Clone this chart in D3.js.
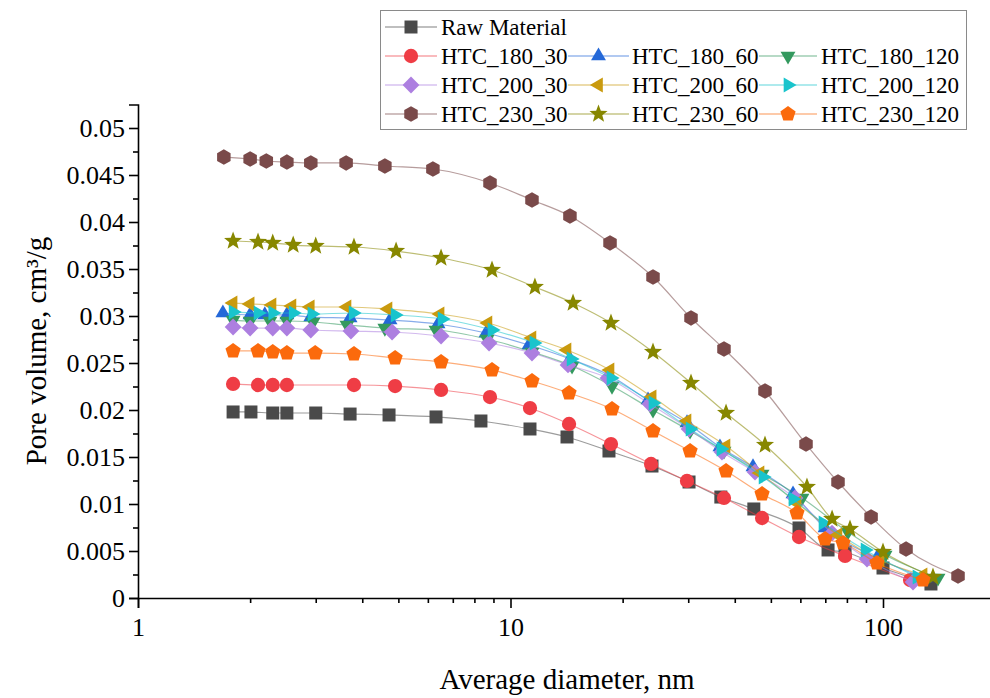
<!DOCTYPE html>
<html>
<head>
<meta charset="utf-8">
<script src="https://cdn.jsdelivr.net/npm/d3@7"></script>
<style>
  body { margin: 0; background: #fff; }
  svg { display: block; }
  svg text { font-family: "Liberation Serif", "Times New Roman", Tinos, "DejaVu Serif", "Noto Serif", serif; fill: #000; }
  .axis path, .axis line { stroke: #000; stroke-width: 1.6; }
  .axis text { font-size: 26px; }
</style>
</head>
<body>
<svg id="chart" width="990" height="698"></svg>
<script>
// diameters (nm) and pore volumes (cm3/g)
var rawD = [1.80, 2.01, 2.30, 2.51, 3.00, 3.71, 4.72, 6.31, 8.33, 11.28, 14.18, 18.38, 23.98, 30.15, 36.7, 45.0, 59.5, 71.2, 79.1, 100, 134.5];
var rawV = [0.01979, 0.01979, 0.01968, 0.01968, 0.01968, 0.01957, 0.01947, 0.01926, 0.01883, 0.01798, 0.01713, 0.01564, 0.01404, 0.01234, 0.01074, 0.00947, 0.00745, 0.00511, 0.00489, 0.00319, 0.00149];

var h180_30D = [1.80, 2.10, 2.30, 2.51, 3.80, 4.90, 6.51, 8.81, 11.28, 14.36, 18.61, 23.84, 29.77, 37.42, 47.35, 59.5, 79.1, 118.2];
var h180_30V = [0.02277, 0.02266, 0.02266, 0.02266, 0.02266, 0.02255, 0.02213, 0.02138, 0.02021, 0.01851, 0.01638, 0.01426, 0.01245, 0.01064, 0.00851, 0.00649, 0.00447, 0.00191];

var h180_60D = [1.69, 2.0, 2.19, 2.51, 2.91, 3.71, 4.75, 6.39, 8.60, 11.21, 14.44, 18.38, 23.40, 29.77, 36.5, 44.77, 57.34, 69.9, 96.3, 129.7];
var h180_60V = [0.03032, 0.03011, 0.03011, 0.03011, 0.02989, 0.02979, 0.02957, 0.02915, 0.02819, 0.02691, 0.02543, 0.02372, 0.02106, 0.01862, 0.01606, 0.01394, 0.01106, 0.00745, 0.00426, 0.00213];

var h180_120D = [1.80, 2.0, 2.26, 2.51, 2.95, 3.64, 4.60, 6.31, 8.65, 11.42, 14.63, 18.73, 24.13, 30.34, 37.42, 47.35, 60.6, 80.5, 101.3, 140.5];
var h180_120V = [0.02957, 0.02947, 0.02947, 0.02947, 0.02936, 0.02904, 0.02872, 0.02851, 0.02755, 0.02617, 0.02468, 0.02255, 0.02000, 0.01777, 0.01564, 0.01319, 0.01064, 0.00702, 0.00457, 0.00213];

var h200_30D = [1.80, 2.0, 2.30, 2.51, 2.91, 3.73, 4.81, 6.51, 8.76, 11.42, 14.27, 18.27, 23.69, 30.15, 36.96, 45.33, 58.05, 72.97, 90.6, 120.4];
var h200_30V = [0.02883, 0.02872, 0.02872, 0.02872, 0.02851, 0.02840, 0.02830, 0.02787, 0.02713, 0.02606, 0.02479, 0.02340, 0.02064, 0.01798, 0.01553, 0.01340, 0.01064, 0.00691, 0.00415, 0.00170];

var h200_60D = [1.80, 2.0, 2.29, 2.59, 2.90, 3.64, 4.69, 6.47, 8.70, 11.42, 14.18, 18.5, 24.0, 29.77, 37.9, 46.76, 58.76, 75.7, 98.2, 128.1];
var h200_60V = [0.03138, 0.03128, 0.03117, 0.03106, 0.03096, 0.03096, 0.03074, 0.03021, 0.02926, 0.02766, 0.02638, 0.02426, 0.02140, 0.01883, 0.01617, 0.01330, 0.01011, 0.00670, 0.00404, 0.00245];

var h200_120D = [1.80, 2.10, 2.30, 2.61, 2.93, 3.78, 4.90, 6.55, 8.92, 11.56, 14.54, 18.61, 24.13, 30.34, 36.74, 47.64, 57.3, 69.0, 89.5, 123.4];
var h200_120V = [0.03043, 0.03032, 0.03032, 0.03032, 0.03021, 0.03032, 0.03011, 0.02968, 0.02851, 0.02713, 0.02543, 0.02340, 0.02074, 0.01798, 0.01585, 0.01287, 0.01053, 0.00798, 0.00511, 0.00223];

var h230_30D = [1.70, 2.0, 2.21, 2.51, 2.91, 3.62, 4.60, 6.19, 8.81, 11.42, 14.44, 18.5, 24.13, 30.52, 37.42, 48.22, 62.13, 75.72, 92.9, 115.3, 159.0];
var h230_30V = [0.04691, 0.04670, 0.04649, 0.04638, 0.04628, 0.04628, 0.04596, 0.04564, 0.04415, 0.04234, 0.04064, 0.03777, 0.03415, 0.02979, 0.02649, 0.02202, 0.01638, 0.01234, 0.00862, 0.00521, 0.00234];

var h230_60D = [1.80, 2.10, 2.30, 2.61, 3.00, 3.80, 4.93, 6.51, 8.92, 11.63, 14.72, 18.61, 24.13, 30.52, 37.9, 48.22, 62.5, 73.0, 81.55, 100, 136.2];
var h230_60V = [0.03798, 0.03787, 0.03777, 0.03755, 0.03745, 0.03734, 0.03691, 0.03617, 0.03489, 0.03309, 0.03138, 0.02926, 0.02617, 0.02287, 0.01968, 0.01628, 0.01181, 0.00840, 0.00734, 0.00489, 0.00223];

var h230_120D = [1.80, 2.10, 2.30, 2.51, 2.99, 3.80, 4.90, 6.51, 8.92, 11.42, 14.36, 18.73, 24.13, 30.34, 37.9, 47.35, 58.76, 69.9, 78.1, 96.3, 128.1];
var h230_120V = [0.02628, 0.02628, 0.02617, 0.02606, 0.02606, 0.02596, 0.02553, 0.02511, 0.02426, 0.02309, 0.02181, 0.02011, 0.01777, 0.01564, 0.01351, 0.01106, 0.00904, 0.00628, 0.00585, 0.00372, 0.00191];

var seriesNames = ["Raw Material", "HTC_180_30", "HTC_180_60", "HTC_180_120", "HTC_200_30", "HTC_200_60", "HTC_200_120", "HTC_230_30", "HTC_230_60", "HTC_230_120"];
var seriesColors = ["#4a4a4a", "#ef3d45", "#2468d8", "#33995e", "#ad7fe0", "#c99a0e", "#19c4cc", "#7a4a4a", "#878700", "#fb6a0c"];
var seriesShapes = ["square", "circle", "up", "down", "diamond", "left", "right", "hexagon", "star", "pentagon"];
var yTicks = [0, 0.005, 0.01, 0.015, 0.02, 0.025, 0.03, 0.035, 0.04, 0.045, 0.05];
var yTickLabels = ["0", "0.005", "0.01", "0.015", "0.02", "0.025", "0.03", "0.035", "0.04", "0.045", "0.05"];
var xTicks = [1, 10, 100];

var allD = [rawD, h180_30D, h180_60D, h180_120D, h200_30D, h200_60D, h200_120D, h230_30D, h230_60D, h230_120D];
var allV = [rawV, h180_30V, h180_60V, h180_120V, h200_30V, h200_60V, h200_120V, h230_30V, h230_60V, h230_120V];

var series = seriesNames.map(function(name, i) {
    return {
        name: name,
        color: seriesColors[i],
        shape: seriesShapes[i],
        points: allD[i].map(function(d, j) { return { d: d, v: allV[i][j] }; })
    };
});

var left = 138, bottom = 598, decade = 372.5, pxPerUnit = 9400;

var x = d3.scaleLog()
    .domain([1, 200])
    .range([left, left + decade * Math.log10(200)]);

var y = d3.scaleLinear()
    .domain([0, 0.0525])
    .range([bottom, bottom - 0.0525 * pxPerUnit]);

function polygon(n, r, rot) {
    var pts = [];
    for (var k = 0; k < n; k++) {
        var a = rot + k * 2 * Math.PI / n;
        pts.push([r * Math.cos(a), r * Math.sin(a)]);
    }
    return "M" + pts.map(function(p) { return p[0].toFixed(2) + "," + p[1].toFixed(2); }).join("L") + "Z";
}

function starPath(ro, ri) {
    var pts = [];
    for (var k = 0; k < 10; k++) {
        var r = k % 2 === 0 ? ro : ri;
        var a = -Math.PI / 2 + k * Math.PI / 5;
        pts.push([r * Math.cos(a), r * Math.sin(a)]);
    }
    return "M" + pts.map(function(p) { return p[0].toFixed(2) + "," + p[1].toFixed(2); }).join("L") + "Z";
}

function markerPath(shape) {
    switch (shape) {
        case "square": return "M-6.5,-6.5H6.5V6.5H-6.5Z";
        case "circle": return d3.symbol().type(d3.symbolCircle).size(160)();
        case "up": return polygon(3, 8.6, -Math.PI / 2);
        case "down": return polygon(3, 8.6, Math.PI / 2);
        case "left": return polygon(3, 8.6, Math.PI);
        case "right": return polygon(3, 8.6, 0);
        case "diamond": return polygon(4, 8.4, -Math.PI / 2);
        case "hexagon": return polygon(6, 7.8, -Math.PI / 2);
        case "pentagon": return polygon(5, 8, -Math.PI / 2);
        case "star": return starPath(9.5, 4);
    }
}

var svg = d3.select("#chart");
var serif = "Liberation Serif, Times New Roman, Tinos, DejaVu Serif, serif";

// axes
var yAxis = d3.axisLeft(y)
    .tickValues(yTicks)
    .tickFormat(function(d, i) { return yTickLabels[i]; })
    .tickSize(9)
    .tickPadding(4);

svg.append("g")
    .attr("class", "axis")
    .attr("transform", "translate(" + left + ",0)")
    .call(yAxis)
    .attr("font-family", serif);

svg.append("g")
    .attr("class", "axis")
    .attr("transform", "translate(" + left + ",0)")
    .call(d3.axisLeft(y).tickValues(d3.range(0.0025, 0.0525, 0.005)).tickSize(5).tickFormat(""))
    .select(".domain").remove();

var xMinor = [];
[1, 10, 100].forEach(function(b) {
    for (var k = 2; k <= 9; k++) { if (b * k <= 200) xMinor.push(b * k); }
});

svg.append("g")
    .attr("class", "axis")
    .attr("transform", "translate(0," + bottom + ")")
    .call(d3.axisBottom(x).tickValues(xTicks).tickFormat(d3.format("d")).tickSize(10).tickPadding(10))
    .attr("font-family", serif);

svg.append("g")
    .attr("class", "axis")
    .attr("transform", "translate(0," + bottom + ")")
    .call(d3.axisBottom(x).tickValues(xMinor).tickSize(5).tickFormat(""))
    .select(".domain").remove();

// axis titles
svg.append("text")
    .attr("x", 567)
    .attr("y", 689)
    .attr("text-anchor", "middle")
    .style("font-size", "29px")
    .text("Average diameter, nm");

svg.append("text")
    .attr("transform", "translate(46,351) rotate(-90)")
    .attr("text-anchor", "middle")
    .style("font-size", "29px")
    .text("Pore volume, cm³/g");

// series
var line = d3.line()
    .x(function(d) { return x(d.d); })
    .y(function(d) { return y(d.v); })
    .curve(d3.curveMonotoneX);

series.forEach(function(s) {
    var g = svg.append("g").attr("class", "series");
    g.append("path")
        .datum(s.points)
        .attr("fill", "none")
        .attr("stroke", s.color)
        .attr("stroke-opacity", 0.55)
        .attr("stroke-width", 1.2)
        .attr("d", line);
    g.selectAll(".pt")
        .data(s.points)
        .enter().append("path")
        .attr("class", "pt")
        .attr("transform", function(d) { return "translate(" + x(d.d) + "," + y(d.v) + ")"; })
        .attr("d", markerPath(s.shape))
        .attr("fill", s.color);
});

// legend
var legend = svg.append("g").attr("class", "legend");
legend.append("rect")
    .attr("x", 380.5).attr("y", 10.5)
    .attr("width", 586).attr("height", 119)
    .attr("fill", "#fff")
    .attr("stroke", "#8a8a8a")
    .attr("stroke-width", 1);

var colX = [{ l1: 385, l2: 437, t: 441 }, { l1: 568, l2: 629, t: 632 }, { l1: 759, l2: 817, t: 821 }];
var rowY = [27, 56, 85, 114];

series.forEach(function(s, i) {
    var row = i === 0 ? 0 : Math.floor((i - 1) / 3) + 1;
    var col = i === 0 ? 0 : (i - 1) % 3;
    var c = colX[col], yy = rowY[row];
    var item = legend.append("g");
    item.append("line")
        .attr("x1", c.l1).attr("x2", c.l2)
        .attr("y1", yy).attr("y2", yy)
        .attr("stroke", s.color)
        .attr("stroke-opacity", 0.7)
        .attr("stroke-width", 1.2);
    item.append("path")
        .attr("transform", "translate(" + ((c.l1 + c.l2) / 2) + "," + yy + ")")
        .attr("d", markerPath(s.shape))
        .attr("fill", s.color);
    item.append("text")
        .attr("x", c.t)
        .attr("y", yy)
        .attr("dy", "0.35em")
        .style("font-size", "23px")
        .text(s.name);
});
</script>
</body>
</html>
